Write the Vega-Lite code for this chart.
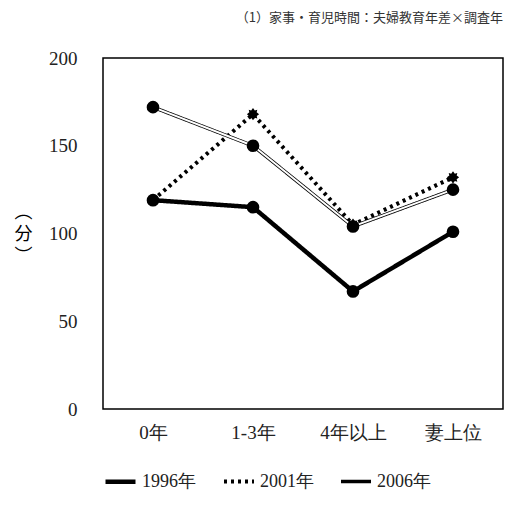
{
  "$schema": "https://vega.github.io/schema/vega-lite/v6.json",
  "width": 400,
  "height": 351,
  "padding": {"left": 14, "top": 12, "right": 5, "bottom": 5},
  "title": {"text": "（1）家事・育児時間：夫婦教育年差×調査年", "anchor": "end", "fontSize": 13, "fontWeight": "normal", "font": "Noto Sans CJK JP", "color": "#333", "offset": 24},
  "config": {
    "view": {"stroke": "black", "strokeWidth": 1.5},
    "axis": {"grid": false, "domain": false, "ticks": false, "labelFont": "Liberation Serif", "labelFontSize": 19, "labelColor": "#222", "titleFont": "Noto Sans CJK JP", "titleFontWeight": "normal"}
  },
  "data": {"values": [
    {"cat": "0年", "year": "1996年", "v": 119},
    {"cat": "1-3年", "year": "1996年", "v": 115},
    {"cat": "4年以上", "year": "1996年", "v": 67},
    {"cat": "妻上位", "year": "1996年", "v": 101},
    {"cat": "0年", "year": "2001年", "v": 119},
    {"cat": "1-3年", "year": "2001年", "v": 168},
    {"cat": "4年以上", "year": "2001年", "v": 105},
    {"cat": "妻上位", "year": "2001年", "v": 132},
    {"cat": "0年", "year": "2006年", "v": 172},
    {"cat": "1-3年", "year": "2006年", "v": 150},
    {"cat": "4年以上", "year": "2006年", "v": 104},
    {"cat": "妻上位", "year": "2006年", "v": 125}
  ]},
  "encoding": {
    "x": {"field": "cat", "type": "nominal", "sort": ["0年", "1-3年", "4年以上", "妻上位"], "scale": {"type": "point", "padding": 0.5}, "axis": {"title": null, "labelAngle": 0, "labelPadding": 14}},
    "y": {"field": "v", "type": "quantitative", "scale": {"domain": [0, 200]}, "axis": {"values": [0, 50, 100, 150, 200], "title": ["︵", "分", "︶"], "titleAngle": 0, "titleFontSize": 18, "titleLineHeight": 22, "titleBaseline": "top", "titleX": -80, "titleY": 145, "labelPadding": 26}}
  },
  "layer": [
    {
      "mark": {"type": "line", "color": "black"},
      "encoding": {
        "strokeDash": {"field": "year", "type": "nominal", "scale": {"domain": ["1996年", "2001年", "2006年"], "range": [[1, 0], [3, 4], [1, 0]]}, "legend": {"title": null, "orient": "bottom", "direction": "horizontal", "symbolType": "stroke", "symbolSize": 900, "symbolStrokeWidth": 4, "symbolStrokeColor": "black", "labelFont": "Liberation Serif", "labelFontSize": 18, "labelColor": "#222", "columnPadding": 20, "offset": 22}},
        "strokeWidth": {"field": "year", "type": "nominal", "scale": {"domain": ["1996年", "2001年", "2006年"], "range": [4.5, 3.5, 5]}, "legend": null}
      }
    },
    {
      "transform": [{"filter": "datum.year === '2006年'"}],
      "mark": {"type": "line", "color": "white", "strokeWidth": 2}
    },
    {
      "transform": [{"filter": "datum.year !== '2001年'"}],
      "mark": {"type": "point", "filled": true, "color": "black", "size": 160, "opacity": 1, "shape": "circle"}
    },
    {
      "transform": [{"filter": "datum.year === '2001年'"}],
      "mark": {"type": "point", "filled": true, "color": "black", "size": 150, "opacity": 1, "shape": "M-1,0L-0.6,-0.3L-0.7,-0.7L-0.3,-0.6L0,-1L0.3,-0.6L0.7,-0.7L0.6,-0.3L1,0L0.6,0.3L0.7,0.7L0.3,0.6L0,1L-0.3,0.6L-0.7,0.7L-0.6,0.3Z"}
    }
  ]
}
